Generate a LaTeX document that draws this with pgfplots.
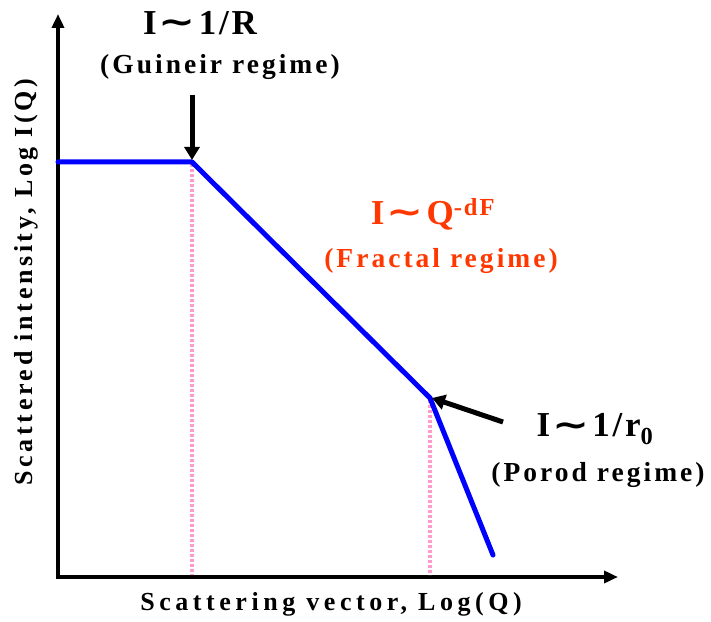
\documentclass[border=0pt]{standalone}
\usepackage{graphicx}
\usepackage{fontspec}
\setmainfont{Liberation Serif}
\newfontfamily\symfont{DejaVu Sans}
\usepackage{pgfplots}
\pgfplotsset{compat=1.18}
\usetikzlibrary{arrows.meta}
\definecolor{curveblue}{RGB}{0,0,255}
\definecolor{guidepink}{RGB}{255,155,205}
\definecolor{fractred}{RGB}{255,55,0}
\tikzset{
  xlbl/.style={font=\fontsize{26}{29}\selectfont\bfseries\addfontfeature{LetterSpace=17.5}, inner sep=0pt, anchor=base},
  ylbl/.style={font=\fontsize{26}{29}\selectfont\bfseries\addfontfeature{LetterSpace=14}, inner sep=0pt, anchor=base, rotate=90},
  regime/.style={font=\fontsize{27.5}{30}\selectfont\bfseries\addfontfeature{LetterSpace=11}, inner sep=0pt, anchor=base},
  law/.style={font=\fontsize{35}{38}\selectfont\bfseries\addfontfeature{LetterSpace=8}, inner sep=0pt, anchor=base},
  pointer/.style={line width=5pt, -{Triangle[length=13pt,width=15pt]}},
}
% a wide tilde for the scaling laws
\newcommand{\tsim}{\hspace{2pt}\raisebox{1pt}{\scalebox{1.7}[1.3]{\symfont\bfseries\fontsize{26}{28}\selectfont ∼}}\hspace{3pt}}
\begin{document}
\begin{tikzpicture}[x=1pt,y=1pt]
\path[use as bounding box] (0,0) rectangle (711,621);
\begin{axis}[
  at={(58pt,44pt)}, anchor=south west,
  scale only axis, width=557pt, height=563pt,
  xmin=0, xmax=557, ymin=0, ymax=563,
  axis lines=none, ticks=none, clip=false,
]
% axes with arrow heads
\draw[line width=4.5pt, line join=miter, {Triangle[length=14pt,width=12pt]}-{Triangle[length=14pt,width=12pt]}]
  (axis cs:0,563) -- (axis cs:0,0) -- (axis cs:560,0);
% reference lines at the two crossovers
\addplot[guidepink, line width=4pt, dash pattern=on 3pt off 2pt] coordinates {(134,413) (134,2)};
\addplot[guidepink, line width=4pt, dash pattern=on 3pt off 2pt] coordinates {(372,177) (372,2)};
% scattering curve: Guinier plateau, fractal slope, Porod slope
\addplot[curveblue, line width=5pt, line join=round, line cap=round] coordinates {(0,415) (134,415) (372,179) (435,22)};
% annotations
\node[law] at (axis cs:142,542) {I\tsim 1/R};
\node[regime] at (axis cs:162,503) {(Guineir regime)};
\draw[pointer] (axis cs:134,482) -- (axis cs:134,417);
\node[law, text=fractred] at (axis cs:375,352) {I\tsim Q\textsuperscript{-dF}};
\node[regime, text=fractred] at (axis cs:383,309) {(Fractal regime)};
\draw[pointer] (axis cs:445,155) -- (axis cs:374,179);
\node[law] at (axis cs:537,140) {I\tsim 1/r\textsubscript{0}};
\node[regime] at (axis cs:540,96) {(Porod regime)};
\node[xlbl] at (axis cs:273,-33) {Scattering vector, Log(Q)};
\node[ylbl] at (axis cs:-25,295) {Scattered intensity, Log I(Q)};
\end{axis}
\end{tikzpicture}
\end{document}
